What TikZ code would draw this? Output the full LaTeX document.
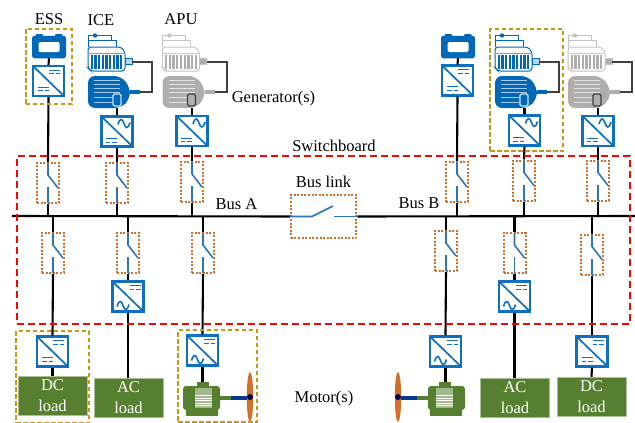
\documentclass[tikz,border=0pt]{standalone}
\usepackage{fontspec}
\setmainfont{Liberation Serif}
\definecolor{cblue}{HTML}{0F6FC0}
\definecolor{mblue}{HTML}{0068B8}
\definecolor{swblue}{HTML}{2E75B6}
\definecolor{mgrey}{HTML}{B0ADAB}
\definecolor{lgrey}{HTML}{C4C4C4}
\definecolor{wire}{HTML}{404040}
\definecolor{gold}{HTML}{C49A14}
\definecolor{dots}{HTML}{D0702A}
\definecolor{lgreen}{HTML}{56802F}
\tikzset{
 lbl/.style={font=\fontsize{16.5}{20}\selectfont,inner sep=0pt,text=black},
 lineb/.style={draw=black,line width=2.1pt},
 convbox/.style={draw=cblue,fill=white,line width=2.1pt,minimum width=31pt,minimum height=30pt,inner sep=0pt},
 swbox/.style={draw=dots,line width=2pt,dash pattern=on 2pt off 1.6pt,minimum width=22pt,minimum height=40pt,inner sep=0pt},
 goldbox/.style={draw=gold,line width=2pt,dash pattern=on 4.5pt off 2.5pt,inner sep=0pt},
 loadbox/.style={fill=lgreen,draw=lgreen!50!white,line width=.5pt,minimum width=69pt,minimum height=39pt,inner sep=0pt,text=white,align=center,font=\fontsize{16.5}{21}\selectfont},
 invis/.style={inner sep=0pt,outer sep=0pt},
 sym/.style={draw=cblue,line width=1.3pt},
}
\newcommand{\dcsym}[2]{\draw[sym] (#1-5.5,#2-1.8) -- (#1+5.5,#2-1.8);
  \draw[sym] (#1-5.5,#2+1.8) -- (#1-1,#2+1.8) (#1+1,#2+1.8) -- (#1+5.5,#2+1.8);}
\newcommand{\acsym}[2]{\draw[sym,line width=1.6pt] (#1-6,#2+1) .. controls (#1-4,#2-6) and (#1-1.5,#2-5) .. (#1,#2) .. controls (#1+1.5,#2+5) and (#1+4,#2+6) .. (#1+6,#2-1);}
\newcommand{\mkconv}[4]{%
 \node[convbox] (#1) at (#2,#3) {};
 \begin{scope}[shift={(#1.center)}]
 \draw[sym,line width=1.7pt] (-15.5,-15) -- (15.5,15);
 \ifcase#4\or \dcsym{6}{-9}\dcsym{-5}{8}\or \acsym{7}{-8}\dcsym{-6}{9}\or \dcsym{7}{-9}\acsym{-5}{9}\fi
 \end{scope}}
\newcommand{\mksw}[3]{%
 \node[swbox] (#1) at (#2,#3) {};
 \begin{scope}[shift={(#1.center)}]
 \draw[swblue,line width=1.6pt] (0,-20) -- (0,-8) -- (10,5);
 \draw[swblue,line width=1.6pt] (0,4) -- (0,20);
 \end{scope}}
\newcommand{\mkbatt}[3]{%
 \node[invis,minimum width=34pt,minimum height=22.5pt,fill=mblue,rounded corners=2.5pt] (#1) at (#2,#3) {};
 \begin{scope}[shift={(#1.center)}]
 \fill[mblue,rounded corners=1pt] (-13.5,-13) rectangle (-6,-8);
 \fill[mblue,rounded corners=1pt] (6,-13) rectangle (13.5,-8);
 \fill[white,rounded corners=1.5pt] (-10.5,-5) rectangle (10.5,5);
 \end{scope}}
\newcommand{\genset}[6]{%
 \begin{scope}[shift={(#2,0)}]
 \draw[#3,line width=1pt,fill=white] (0,40) -- (0,35.5) -- (23,35.5) -- (23,40);
 \fill[#3] (7,35.5) circle (2.2);
 \draw[#3,line width=1pt,fill=white] (0,47) -- (0,40.5) -- (28,40.5) -- (28,47);
 \draw[#3,line width=1pt,fill=white,rounded corners=3pt] (0,47) -- (33,47) -- (37,52) -- (37,71) -- (3,71) -- (0,68) -- cycle;
 \foreach \k in {0,...,8} {\fill[#4] (2.5+\k*3.7,55) rectangle +(2.3,14);}
 \draw[#4!60!white,line width=.8pt] (0.5,53.5) -- (36.5,53.5);
 \node[invis,minimum width=7pt,minimum height=5.5pt,fill=#5,draw=#3,line width=.6pt,anchor=west] (#1e) at (37,61.5) {};
 \fill[#4,rounded corners=7pt] (0,76) -- (33,76) -- (42,87) -- (42,99) -- (33,108) -- (0,108) -- cycle;
 \foreach \k in {80,84,88,92,97,102} {\draw[white!65!#4,line width=.6pt] (6,\k) -- (32,\k);}
 \node[invis,minimum width=10pt,minimum height=4.5pt,fill=#4,anchor=west] (#1m) at (42,92) {};
 \node[invis,minimum width=8pt,minimum height=12pt,fill=#4,draw=#6,line width=1.1pt,rounded corners=1.5pt] (#1w) at (29,100) {};
 \node[invis,minimum width=42pt,minimum height=32pt] (#1b) at (21,92) {};
 \end{scope}
 \draw[wire,line width=2pt] (#1e.east) -- ++(20,0) |- (#1m.east);}
\newcommand{\mkmotor}[3]{%
 \begin{scope}[shift={(#2,0)},xscale=#3]
 \fill[lgreen] (197,382) rectangle (209,388);
 \fill[lgreen,rounded corners=3pt] (183,386) rectangle (220,410);
 \fill[lgreen] (186,409) rectangle (218,416);
 \fill[lgreen!55!white] (195,388) rectangle (212,408);
 \foreach \k in {395,397.5,400,402.5,405} {\fill[white] (195,\k) rectangle (212,\k+1.2);}
 \fill[lgreen] (220,395.5) rectangle (231,400);
 \fill[blue!40!black!50!cblue] (231,395.5) rectangle (250,400);
 \fill[dots] (250,397) ellipse (3.2 and 25);
 \fill[blue!30!black] (250,397) circle (3);
 \node[invis,minimum width=36pt,minimum height=34pt] (#1) at (202,399) {};
 \end{scope}}
\begin{document}
\begin{tikzpicture}[x=1pt,y=-1pt]
\useasboundingbox (0,0) rectangle (635,423);
\coordinate (busL) at (12,216);
\coordinate (busR) at (635,216);
\node[swbox,minimum width=65.5pt,minimum height=43pt] (lk) at (323.5,216.5) {};
\draw[lineb] (busL) -- (lk.west);
\draw[lineb] (lk.east) -- (busR);
\draw[swblue,line width=1.6pt] (lk.west) -- (312,216.5) -- (333,206);
\draw[swblue,line width=1.6pt] (334,216.5) -- (lk.east);
\mkbatt{b1}{49}{47}
\mkconv{c1}{48.5}{81}{1}
\mksw{s1}{48}{183}
\genset{g1}{88}{mblue}{mblue}{white!70!cblue}{white!80!cblue}
\mkconv{c2}{117}{131.5}{2}
\mksw{s2}{117}{183}
\genset{g2}{162.5}{lgrey}{mgrey}{mgrey}{wire}
\mkconv{c3}{192}{131}{2}
\mksw{s3}{192}{182}
\mkbatt{b2}{458}{47}
\mkconv{c4}{457.5}{80.5}{1}
\mksw{s4}{457}{182}
\genset{g3}{495}{mblue}{mblue}{white!70!cblue}{white!80!cblue}
\mkconv{c5}{524.5}{130.5}{2}
\mksw{s5}{524}{180.5}
\genset{g4}{568}{lgrey}{mgrey}{mgrey}{wire}
\mkconv{c6}{598}{131}{2}
\mksw{s6}{598}{180.5}
\mksw{s7}{53}{253}
\mkconv{c7}{52.5}{351.5}{1}
\node[loadbox] (l1) at (52.5,395.5) {DC\\load};
\mksw{s8}{128}{253}
\mkconv{c8}{128}{296.5}{3}
\node[loadbox] (l2) at (128.5,397.5) {AC\\load};
\mksw{s9}{203}{253}
\mkconv{c9}{202.5}{350.5}{3}
\mkmotor{m1}{0}{1}
\mksw{s10}{446}{251}
\mkconv{c10}{445.5}{351.5}{3}
\mkmotor{m2}{648}{-1}
\mksw{s11}{514.5}{253}
\mkconv{c11}{514.5}{296.5}{3}
\node[loadbox] (l3) at (515,397.5) {AC\\load};
\mksw{s12}{592}{254.5}
\mkconv{c12}{592}{351.5}{1}
\node[loadbox] (l4) at (591.5,396.5) {DC\\load};
\draw[lineb] (b1.south) -- (c1.north);
\draw[lineb] (c1.south) -- (s1.north);
\draw[lineb] (g1b.south -| c2.north) -- (c2.north);
\draw[lineb] (c2.south) -- (s2.north);
\draw[lineb] (g2b.south -| c3.north) -- (c3.north);
\draw[lineb] (c3.south) -- (s3.north);
\draw[lineb] (b2.south) -- (c4.north);
\draw[lineb] (c4.south) -- (s4.north);
\draw[lineb] (g3b.south -| c5.north) -- (c5.north);
\draw[lineb] (c5.south) -- (s5.north);
\draw[lineb] (g4b.south -| c6.north) -- (c6.north);
\draw[lineb] (c6.south) -- (s6.north);
\foreach \s in {s1,s2,s3,s4,s5,s6} {\draw[lineb] (\s.south) -- (\s.south |- busL);}
\foreach \s in {s7,s8,s9,s10,s11,s12} {\draw[lineb] (\s.north |- busL) -- (\s.north);}
\draw[lineb] (s7.south) -- (c7.north);
\draw[lineb] (c7.south) -- (l1.north);
\draw[lineb] (s8.south) -- (c8.north);
\draw[lineb] (c8.south) -- (c8.south |- l2.north);
\draw[lineb] (s9.south) -- (c9.north);
\draw[lineb] (c9.south) -- (c9.south |- m1.north);
\draw[lineb] (s10.south) -- (c10.north);
\draw[lineb] (c10.south) -- (c10.south |- m2.north);
\draw[lineb] (s11.south) -- (c11.north);
\draw[lineb] (c11.south) -- (c11.south |- l3.north);
\draw[lineb] (s12.south) -- (c12.north);
\draw[lineb] (c12.south) -- (l4.north);
\node[goldbox,minimum width=46pt,minimum height=75.5pt] (e1) at (48.5,66.3) {};
\node[goldbox,minimum width=73pt,minimum height=122pt] (e2) at (526.5,90) {};
\node[goldbox,minimum width=73pt,minimum height=92pt] (e3) at (52.5,377) {};
\node[goldbox,minimum width=79pt,minimum height=92pt] (e4) at (217.5,376) {};
\node[draw=red,line width=2pt,dash pattern=on 7pt off 4pt,minimum width=613pt,minimum height=168pt,inner sep=0pt] (sb) at (323.5,240) {};
\node[lbl] (t1) at (49,19.5) {ESS};
\node[lbl] (t2) at (101,20.5) {ICE};
\node[lbl] (t3) at (181,19.5) {APU};
\node[lbl] (t4) at (273.5,99) {Generator(s)};
\node[lbl] (t5) at (334,146) {Switchboard};
\node[lbl] (t6) at (323.5,182) {Bus link};
\node[lbl] (t7) at (236.5,204) {Bus A};
\node[lbl] (t8) at (419,203) {Bus B};
\node[lbl] (t9) at (324,399) {Motor(s)};
\end{tikzpicture}
\end{document}
